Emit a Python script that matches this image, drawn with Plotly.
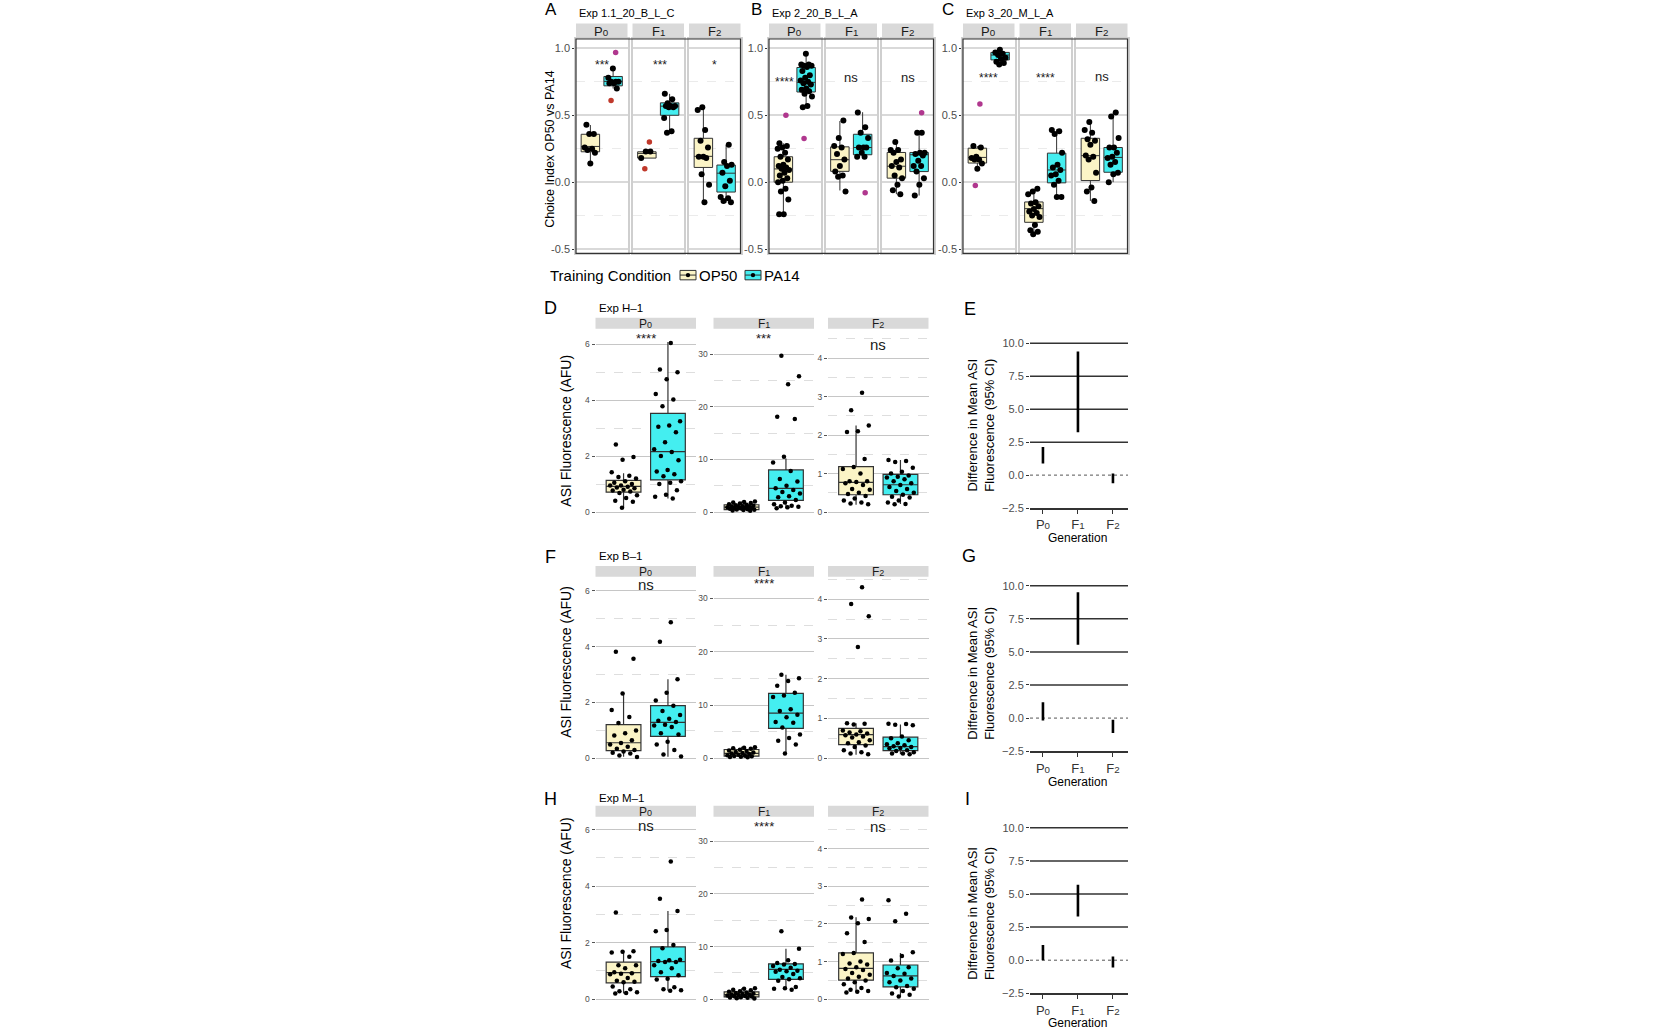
import plotly.graph_objects as go

W, H = 1674, 1034
FONT = "Liberation Sans, Arial, sans-serif"
OP50_FILL = "#FBF4C6"
PA14_FILL = "#44EEF0"
RED = "#C0392B"
MAGENTA = "#B0378E"
BOXLINE = "#333333"

gens = ["P0", "F1", "F2"]
conds = ["OP50", "PA14"]
gen_labels = ['P<span style="font-size:75%">0</span>',
              'F<span style="font-size:75%">1</span>',
              'F<span style="font-size:75%">2</span>']

# ---------------- Choice index experiments (A, B, C) ----------------
choice_titles = ["Exp 1.1_20_B_L_C", "Exp 2_20_B_L_A", "Exp 3_20_M_L_A"]
choice_letters = ["A", "B", "C"]

a_p0_op50 = [0.43, 0.36, 0.36, 0.26, 0.25, 0.24, 0.22, 0.14]
a_p0_pa14 = [0.85, 0.78, 0.75, 0.75, 0.75, 0.74, 0.74, 0.70]
a_f1_op50 = [0.23, 0.23, 0.18]
a_f1_pa14 = [0.66, 0.62, 0.59, 0.57, 0.57, 0.57, 0.56, 0.56, 0.48, 0.38, 0.37]
a_f2_op50 = [0.56, 0.54, 0.39, 0.31, 0.26, 0.19, 0.19, 0.18, 0.06, -0.02, -0.15]
a_f2_pa14 = [0.28, 0.15, 0.13, 0.12, 0.07, 0.01, -0.03, -0.11, -0.12, -0.14, -0.15]
a_q1 = [0.227, 0.72, 0.18, 0.50, 0.11, -0.074]
a_med = [0.267, 0.753, 0.215, 0.568, 0.193, 0.067]
a_q3 = [0.358, 0.79, 0.227, 0.593, 0.328, 0.128]
a_lo = [0.15, 0.70, 0.18, 0.37, -0.148, -0.153]
a_hi = [0.427, 0.852, 0.227, 0.66, 0.556, 0.279]
a_out_gen = ["P0", "P0", "F1", "F1"]
a_out_cond = ["PA14", "PA14", "OP50", "OP50"]
a_out_val = [0.97, 0.61, 0.30, 0.10]
a_out_col = [MAGENTA, RED, RED, RED]
a_sig = ["***", "***", "*"]
a_sig_y = [0.90, 0.90, 0.90]

b_p0_op50 = [0.29, 0.27, 0.26, 0.25, 0.22, 0.19, 0.17, 0.13, 0.12, 0.11, 0.10, 0.09,
             0.07, 0.05, 0.03, 0.01, 0.0, -0.05, -0.07, -0.13, -0.24, -0.24]
b_p0_pa14 = [0.96, 0.88, 0.88, 0.87, 0.87, 0.86, 0.83, 0.80, 0.78, 0.76, 0.75, 0.74,
             0.73, 0.70, 0.69, 0.68, 0.66, 0.64, 0.57, 0.56]
b_f1_op50 = [0.46, 0.33, 0.27, 0.26, 0.21, 0.17, 0.12, 0.08, 0.05, 0.04, -0.07]
b_f1_pa14 = [0.52, 0.41, 0.37, 0.33, 0.26, 0.26, 0.26, 0.22, 0.19, 0.19]
b_f2_op50 = [0.30, 0.24, 0.24, 0.22, 0.17, 0.15, 0.12, 0.11, 0.05, 0.03, -0.02, -0.06, -0.09]
b_f2_pa14 = [0.37, 0.37, 0.22, 0.22, 0.21, 0.20, 0.16, 0.12, 0.12, 0.08, 0.03, -0.02, -0.10]
b_q1 = [0.0, 0.674, 0.081, 0.205, 0.03, 0.079]
b_med = [0.099, 0.746, 0.168, 0.259, 0.119, 0.205]
b_q3 = [0.19, 0.857, 0.264, 0.358, 0.222, 0.222]
b_lo = [-0.24, 0.56, -0.062, 0.19, -0.09, -0.10]
b_hi = [0.29, 0.96, 0.457, 0.523, 0.30, 0.37]
b_out_gen = ["P0", "P0", "F1", "F2"]
b_out_cond = ["OP50", "PA14", "PA14", "PA14"]
b_out_val = [0.50, 0.326, -0.08, 0.518]
b_out_col = [MAGENTA, MAGENTA, MAGENTA, MAGENTA]
b_sig = ["****", "ns", "ns"]
b_sig_y = [0.77, 0.78, 0.78]

c_p0_op50 = [0.27, 0.26, 0.19, 0.18, 0.17, 0.17, 0.14, 0.10]
c_p0_pa14 = [0.99, 0.97, 0.96, 0.95, 0.93, 0.92, 0.90, 0.89, 0.88]
c_f1_op50 = [-0.05, -0.07, -0.09, -0.15, -0.16, -0.18, -0.20, -0.22, -0.23, -0.25,
             -0.26, -0.32, -0.36, -0.37, -0.39]
c_f1_pa14 = [0.39, 0.38, 0.36, 0.22, 0.13, 0.11, 0.09, 0.06, 0.05, 0.01, -0.02, -0.11, -0.11]
c_f2_op50 = [0.45, 0.39, 0.37, 0.32, 0.31, 0.28, 0.20, 0.19, 0.17, 0.07, -0.04, -0.07, -0.14]
c_f2_pa14 = [0.52, 0.49, 0.33, 0.26, 0.26, 0.22, 0.19, 0.18, 0.15, 0.13, 0.07, 0.06, 0.0]
c_q1 = [0.143, 0.914, -0.30, -0.005, 0.012, 0.074]
c_med = [0.185, 0.95, -0.198, 0.091, 0.198, 0.185]
c_q3 = [0.254, 0.97, -0.148, 0.217, 0.328, 0.259]
c_lo = [0.10, 0.877, -0.39, -0.11, -0.14, 0.0]
c_hi = [0.27, 0.99, -0.05, 0.395, 0.452, 0.519]
c_out_gen = ["P0", "P0"]
c_out_cond = ["OP50", "OP50"]
c_out_val = [0.585, -0.025]
c_out_col = [MAGENTA, MAGENTA]
c_sig = ["****", "****", "ns"]
c_sig_y = [0.80, 0.80, 0.79]

choice_ticks = [-0.5, 0.0, 0.5, 1.0]
choice_ticktext = ["-0.5", "0.0", "0.5", "1.0"]
choice_minor = [-0.25, 0.25, 0.75]

# ---------------- ASI fluorescence experiments (D, F, H) ----------------
asi_titles = ["Exp H\u20131", "Exp B\u20131", "Exp M\u20131"]
asi_letters = ["D", "F", "H"]

d_p0_op50 = [2.42, 1.97, 1.87, 1.42, 1.30, 1.25, 1.20, 1.10, 1.05, 1.00, 0.95, 0.95,
             0.90, 0.88, 0.85, 0.80, 0.77, 0.73, 0.68, 0.60, 0.50, 0.40, 0.37, 0.15]
d_p0_pa14 = [6.05, 5.10, 5.00, 4.75, 4.22, 4.03, 3.78, 3.25, 3.10, 3.05, 2.85, 2.50,
             2.25, 2.15, 2.00, 1.85, 1.50, 1.45, 1.35, 1.28, 1.10, 1.05, 1.00, 0.78,
             0.62, 0.55, 0.48]
d_f1_op50 = [2.0, 1.9, 1.8, 1.7, 1.6, 1.5, 1.4, 1.3, 1.2, 1.1, 1.0, 1.0, 0.95, 0.9,
             0.85, 0.8, 0.75, 0.7, 0.6, 0.55, 0.5, 0.45, 0.4, 0.3, 0.25]
d_f1_pa14 = [29.7, 25.8, 24.3, 18.1, 17.7, 10.5, 9.4, 7.8, 6.3, 5.8, 5.0, 4.5, 4.2,
             3.8, 3.5, 3.0, 2.8, 2.3, 1.8, 1.5, 1.2, 1.1, 1.0, 0.9, 0.7]
d_f2_op50 = [3.10, 2.65, 2.25, 2.10, 2.08, 1.38, 1.17, 1.12, 1.00, 0.80, 0.80, 0.78,
             0.75, 0.70, 0.60, 0.58, 0.50, 0.47, 0.42, 0.35, 0.30, 0.25, 0.22, 0.20]
d_f2_pa14 = [1.35, 1.33, 1.30, 1.15, 1.05, 1.00, 0.95, 0.92, 0.90, 0.85, 0.80, 0.75,
             0.70, 0.65, 0.60, 0.55, 0.50, 0.45, 0.40, 0.38, 0.30, 0.25, 0.21, 0.20]
d_q1 = [0.71, 1.15, 0.44, 2.2, 0.45, 0.45]
d_med = [0.92, 2.16, 0.94, 4.5, 0.77, 0.71]
d_q3 = [1.13, 3.53, 1.38, 8.0, 1.18, 0.98]
d_lo = [0.15, 0.48, 0.25, 0.6, 0.19, 0.21]
d_hi = [1.39, 6.08, 2.0, 10.2, 2.25, 1.35]
d_sig = ["****", "***", "ns"]
d_sig_y = [6.32, 33.5, 4.36]

f_p0_op50 = [3.82, 3.57, 2.32, 1.73, 1.48, 1.27, 1.00, 0.90, 0.82, 0.65, 0.55, 0.50,
             0.42, 0.35, 0.30, 0.25, 0.20, 0.18, 0.10, 0.05]
f_p0_pa14 = [4.87, 4.17, 2.83, 2.35, 2.07, 1.88, 1.70, 1.55, 1.42, 1.35, 1.30, 1.20,
             1.18, 1.12, 0.90, 0.86, 0.60, 0.50, 0.30, 0.14, 0.07]
f_f1_op50 = [2.1, 2.0, 1.9, 1.8, 1.6, 1.5, 1.4, 1.2, 1.1, 1.0, 0.9, 0.8, 0.7, 0.6,
             0.5, 0.45, 0.4, 0.3, 0.25, 0.2]
f_f1_pa14 = [15.7, 15.0, 14.5, 13.6, 12.3, 11.8, 11.5, 9.2, 8.9, 8.2, 7.7, 6.8, 6.7,
             5.8, 4.5, 3.8, 3.3, 2.6, 0.9]
f_f2_op50 = [4.30, 3.88, 3.57, 2.80, 0.88, 0.87, 0.85, 0.70, 0.68, 0.65, 0.62, 0.60,
             0.58, 0.55, 0.52, 0.45, 0.40, 0.38, 0.32, 0.28, 0.20, 0.15, 0.12, 0.10]
f_f2_pa14 = [0.87, 0.86, 0.84, 0.83, 0.55, 0.50, 0.45, 0.38, 0.35, 0.33, 0.30, 0.28,
             0.26, 0.25, 0.20, 0.18, 0.15, 0.12, 0.12, 0.10]
f_q1 = [0.28, 0.79, 0.43, 5.64, 0.345, 0.19]
f_med = [0.56, 1.29, 0.93, 8.5, 0.595, 0.29]
f_q3 = [1.21, 1.89, 1.67, 12.2, 0.75, 0.53]
f_lo = [0.06, 0.06, 0.19, 0.87, 0.09, 0.10]
f_hi = [2.31, 2.83, 2.17, 15.7, 0.88, 0.85]
f_sig = ["ns", "****", "*"]
f_sig_y = [6.22, 33.3, 4.60]

h_p0_op50 = [3.07, 1.70, 1.68, 1.65, 1.50, 1.20, 1.20, 1.10, 0.95, 0.92, 0.90, 0.88,
             0.75, 0.65, 0.62, 0.60, 0.45, 0.35, 0.28, 0.25, 0.22, 0.20]
h_p0_pa14 = [4.87, 3.55, 3.12, 2.45, 2.40, 1.92, 1.80, 1.40, 1.38, 1.35, 1.32, 1.32,
             1.20, 1.10, 0.95, 0.85, 0.72, 0.70, 0.42, 0.35, 0.32, 0.30]
h_f1_op50 = [2.1, 2.0, 1.8, 1.7, 1.5, 1.4, 1.3, 1.2, 1.1, 1.0, 0.9, 0.85, 0.8, 0.7,
             0.6, 0.55, 0.5, 0.4, 0.35, 0.3, 0.2, 0.15]
h_f1_pa14 = [12.9, 9.6, 7.4, 6.9, 6.7, 6.6, 6.3, 6.0, 5.6, 5.4, 5.3, 5.2, 4.8, 4.2,
             4.0, 3.8, 3.5, 2.3, 2.1, 2.0, 1.8]
h_f2_op50 = [2.65, 2.17, 2.13, 2.02, 1.75, 1.52, 1.23, 1.20, 1.00, 0.95, 0.92, 0.85,
             0.80, 0.78, 0.70, 0.65, 0.60, 0.55, 0.50, 0.45, 0.40, 0.30, 0.25, 0.22,
             0.20, 0.18]
h_f2_pa14 = [2.63, 2.27, 2.07, 1.25, 1.15, 1.03, 0.85, 0.82, 0.70, 0.68, 0.62, 0.55,
             0.50, 0.45, 0.35, 0.32, 0.28, 0.22, 0.15, 0.12, 0.07]
h_q1 = [0.58, 0.80, 0.44, 3.77, 0.51, 0.33]
h_med = [0.94, 1.33, 0.88, 5.65, 0.82, 0.62]
h_q3 = [1.31, 1.85, 1.38, 6.72, 1.23, 0.91]
h_lo = [0.20, 0.30, 0.15, 1.88, 0.18, 0.07]
h_hi = [1.70, 3.12, 2.07, 9.6, 2.18, 1.23]
h_sig = ["ns", "****", "ns"]
h_sig_y = [6.15, 33.3, 4.58]

asi_ticks = [[0, 2, 4, 6], [0, 10, 20, 30], [0, 1, 2, 3, 4]]
asi_minor = [[1, 3, 5], [5, 15, 25], [0.5, 1.5, 2.5, 3.5, 4.5]]

# ---------------- Difference in mean (E, G, I) ----------------
ci_letters = ["E", "G", "I"]
e_lo = [0.88, 3.25, -0.62]
e_hi = [2.13, 9.38, 0.12]
g_lo = [-0.18, 5.55, -1.12]
g_hi = [1.20, 9.50, -0.12]
i_lo = [0.00, 3.30, -0.55]
i_hi = [1.15, 5.70, 0.27]
ci_ticks = [-2.5, 0.0, 2.5, 5.0, 7.5, 10.0]
ci_ticktext = ["\u22122.5", "0.0", "2.5", "5.0", "7.5", "10.0"]
ci_lines = [-2.5, 2.5, 5.0, 7.5, 10.0]

# ================= build figure =================
fig = go.Figure()
layout_axes = {}
shapes = []
annotations = []
n_axes = [0]


def px(x):
    return x / W


def py(y):
    return 1 - y / H


def new_axes(x0, x1, y0, y1, xax, yax):
    n_axes[0] += 1
    n = n_axes[0]
    s = "" if n == 1 else str(n)
    xax = dict(xax)
    yax = dict(yax)
    xax.update(domain=[px(x0), px(x1)], anchor="y" + s)
    yax.update(domain=[py(y1), py(y0)], anchor="x" + s)
    layout_axes["xaxis" + s] = xax
    layout_axes["yaxis" + s] = yax
    return "x" + s, "y" + s


def jitter(n, amp, seed):
    return [((i * 0.6180339887 + seed) % 1.0 - 0.5) * 2 * amp for i in range(n)]


def text(x, y, t, size, color="#000000", xanchor="center", angle=0, yanchor="middle"):
    annotations.append(dict(x=px(x), y=py(y), xref="paper", yref="paper", text=t,
                            showarrow=False, xanchor=xanchor, yanchor=yanchor,
                            textangle=angle, font=dict(size=size, color=color, family=FONT)))


def rect(x0, y0, x1, y1, fill=None, line=None, lw=1, layer="above"):
    shapes.append(dict(type="rect", xref="paper", yref="paper", x0=px(x0), x1=px(x1),
                       y0=py(y1), y1=py(y0), fillcolor=fill if fill else "rgba(0,0,0,0)",
                       line=dict(color=line if line else "rgba(0,0,0,0)", width=lw if line else 0),
                       layer=layer))


def add_box(xa, ya, pos, q1, med, q3, lo, hi, fill, width, lw):
    fig.add_trace(go.Box(x=[pos], q1=[q1], median=[med], q3=[q3], lowerfence=[lo],
                         upperfence=[hi], fillcolor=fill, width=width, whiskerwidth=0,
                         line=dict(color=BOXLINE, width=lw), boxpoints=False,
                         xaxis=xa, yaxis=ya, showlegend=False, hoverinfo="skip"))


def add_points(xa, ya, pos, vals, amp, seed, size, color="#000000"):
    js = jitter(len(vals), amp, seed)
    fig.add_trace(go.Scatter(x=[pos + j for j in js], y=vals, mode="markers",
                             marker=dict(size=size, color=color, line=dict(width=0)),
                             xaxis=xa, yaxis=ya, showlegend=False, hoverinfo="skip"))


COND_POS = {"OP50": -0.265, "PA14": 0.265}
COND_FILL = {"OP50": OP50_FILL, "PA14": PA14_FILL}

# ---------- top row ----------
choice_points = [
    [[a_p0_op50, a_p0_pa14], [a_f1_op50, a_f1_pa14], [a_f2_op50, a_f2_pa14]],
    [[b_p0_op50, b_p0_pa14], [b_f1_op50, b_f1_pa14], [b_f2_op50, b_f2_pa14]],
    [[c_p0_op50, c_p0_pa14], [c_f1_op50, c_f1_pa14], [c_f2_op50, c_f2_pa14]],
]
choice_stats = [(a_q1, a_med, a_q3, a_lo, a_hi), (b_q1, b_med, b_q3, b_lo, b_hi),
                (c_q1, c_med, c_q3, c_lo, c_hi)]
choice_out = [(a_out_gen, a_out_cond, a_out_val, a_out_col),
              (b_out_gen, b_out_cond, b_out_val, b_out_col),
              (c_out_gen, c_out_cond, c_out_val, c_out_col)]
choice_sig = [(a_sig, a_sig_y), (b_sig, b_sig_y), (c_sig, c_sig_y)]
choice_sig_x = [[0.0, 0.05, 0.0], [-0.25, 0.0, 0.0], [0.0, 0.0, 0.0]]

TOP_X0 = [576, 769, 963]
FW, FG = 51.5, 5.0
TOP_Y0, TOP_Y1 = 37.3, 253.3
letter_x = [551, 756, 948]

for e in range(3):
    text(letter_x[e], 8, choice_letters[e], 17)
    text(TOP_X0[e] + 1, 11, choice_titles[e], 11, xanchor="left")
    q1s, meds, q3s, los, his = choice_stats[e]
    for g in range(3):
        x0 = TOP_X0[e] + g * (FW + FG)
        x1 = x0 + FW
        xa, ya = new_axes(
            x0, x1, TOP_Y0, TOP_Y1,
            dict(range=[-0.6, 0.6], showticklabels=False, showgrid=False, zeroline=False,
                 showline=True, mirror=True, linecolor="#CFCFCF", linewidth=1.5, ticks=""),
            dict(range=[-0.532, 1.07], tickvals=choice_ticks, ticktext=choice_ticktext,
                 showticklabels=(g == 0), ticks="outside" if g == 0 else "", ticklen=2,
                 tickcolor="#333333", tickfont=dict(size=11, color="#4D4D4D", family=FONT),
                 showgrid=True, gridcolor="#D9D9D9", gridwidth=1.6, zeroline=False,
                 showline=True, mirror=True, linecolor="#CFCFCF", linewidth=1.5,
                 minor=dict(tickvals=choice_minor, showgrid=True, gridcolor="#EBEBEB",
                            griddash="dash", gridwidth=1, ticks="")))
        rect(x0, 21.7, x1, 36.7, fill="#D9D9D9", layer="below")
        text((x0 + x1) / 2, 29.5, gen_labels[g], 13, color="#1A1A1A")
        for c, cond in enumerate(conds):
            k = g * 2 + c
            pos = COND_POS[cond]
            add_box(xa, ya, pos, q1s[k], meds[k], q3s[k], los[k], his[k],
                    COND_FILL[cond], 0.43, 1)
            add_points(xa, ya, pos, choice_points[e][g][c], 0.14, 0.17 + 0.31 * k, 6)
        og, oc, ov, ocol = choice_out[e]
        sel = [i for i in range(len(ov)) if og[i] == gens[g]]
        if sel:
            js = jitter(len(sel), 0.14, 0.71 + g)
            fig.add_trace(go.Scatter(
                x=[COND_POS[oc[i]] + js[m] for m, i in enumerate(sel)],
                y=[ov[i] for i in sel], mode="markers",
                marker=dict(size=5.5, color=[ocol[i] for i in sel], line=dict(width=0)),
                xaxis=xa, yaxis=ya, showlegend=False, hoverinfo="skip"))
        sig, sig_y = choice_sig[e]
        is_star = sig[g].startswith("*")
        annotations.append(dict(x=choice_sig_x[e][g], y=sig_y[g], xref=xa, yref=ya,
                                text=sig[g], showarrow=False,
                                yshift=-3 if is_star else 0,
                                font=dict(size=12 if is_star else 13, color="#1A1A1A",
                                          family=FONT)))
    rect(TOP_X0[e], TOP_Y0, TOP_X0[e] + 3 * FW + 2 * FG, TOP_Y1, line="#333333", lw=1.2)

text(550, 148, "Choice Index OP50 vs PA14", 12.5, angle=-90)

# legend
text(548, 276, "Training Condition", 15, xanchor="left")
for kx, cond in [(679, "OP50"), (744, "PA14")]:
    rect(kx + 1, 270.5, kx + 17, 280, fill=COND_FILL[cond], line="#333333", lw=1)
    shapes.append(dict(type="line", xref="paper", yref="paper", x0=px(kx + 1),
                       x1=px(kx + 17), y0=py(275.2), y1=py(275.2),
                       line=dict(color="#333333", width=1)))
    shapes.append(dict(type="circle", xref="paper", yref="paper", x0=px(kx + 6.8),
                       x1=px(kx + 11.2), y0=py(277.4), y1=py(273.0),
                       fillcolor="#000000", line=dict(width=0)))
    text(kx + 18, 276, cond, 15, xanchor="left")

# ---------- ASI rows ----------
asi_points = [
    [[d_p0_op50, d_p0_pa14], [d_f1_op50, d_f1_pa14], [d_f2_op50, d_f2_pa14]],
    [[f_p0_op50, f_p0_pa14], [f_f1_op50, f_f1_pa14], [f_f2_op50, f_f2_pa14]],
    [[h_p0_op50, h_p0_pa14], [h_f1_op50, h_f1_pa14], [h_f2_op50, h_f2_pa14]],
]
asi_stats = [(d_q1, d_med, d_q3, d_lo, d_hi), (f_q1, f_med, f_q3, f_lo, f_hi),
             (h_q1, h_med, h_q3, h_lo, h_hi)]
asi_sig = [(d_sig, d_sig_y), (f_sig, f_sig_y), (h_sig, h_sig_y)]
ASI_FACETS = [(595.5, 696), (713.5, 814), (828, 928.5)]
ASI_ROWS = [
    dict(strip=(318.3, 329.3), dom=(330, 518), letter_y=308.5, title_y=308,
         ytitle=432, ranges=[[-0.142, 6.532], [-0.755, 34.72], [-0.103, 4.748]]),
    dict(strip=(568.3, 579.3), dom=(579, 766), letter_y=559, title_y=558.5,
         ytitle=665, ranges=[[-0.131, 6.508], [-0.69, 34.09], [-0.096, 4.569]]),
    dict(strip=(810, 821), dom=(821, 1009), letter_y=803.5, title_y=802.5,
         ytitle=898, ranges=[[-0.14, 6.456], [-0.75, 34.65], [-0.105, 4.85]]),
]

for r in range(3):
    row = ASI_ROWS[r]
    text(550, row["letter_y"], asi_letters[r], 18)
    text(597, row["title_y"], asi_titles[r], 11.5, xanchor="left")
    text(566, row["ytitle"], "ASI Fluorescence (AFU)", 14, angle=-90)
    q1s, meds, q3s, los, his = asi_stats[r]
    sig, sig_y = asi_sig[r]
    for g in range(3):
        x0, x1 = ASI_FACETS[g]
        xa, ya = new_axes(
            x0, x1, row["dom"][0], row["dom"][1],
            dict(range=[-0.6, 0.6], visible=False),
            dict(range=row["ranges"][g], tickvals=asi_ticks[g], ticks="outside", ticklen=3,
                 tickcolor="#555555", tickwidth=1,
                 tickfont=dict(size=8.5, color="#4D4D4D", family=FONT),
                 showgrid=True, gridcolor="#C6C6C6", gridwidth=1.4, zeroline=False,
                 showline=False,
                 minor=dict(tickvals=asi_minor[g], showgrid=True, gridcolor="#DEDEDE",
                            griddash="dash", gridwidth=1, ticks="")))
        rect(x0, row["strip"][0], x1, row["strip"][1], fill="#D9D9D9", layer="below")
        text((x0 + x1) / 2, (row["strip"][0] + row["strip"][1]) / 2 + 0.5,
             gen_labels[g], 12, color="#1A1A1A")
        for c, cond in enumerate(conds):
            k = g * 2 + c
            pos = COND_POS[cond]
            add_box(xa, ya, pos, q1s[k], meds[k], q3s[k], los[k], his[k],
                    COND_FILL[cond], 0.415, 1.2)
            add_points(xa, ya, pos, asi_points[r][g][c], 0.17, 0.23 + 0.37 * k, 4.5)
        is_star = sig[g].startswith("*")
        annotations.append(dict(x=0, y=sig_y[g], xref=xa, yref=ya, text=sig[g],
                                showarrow=False, yshift=-3 if is_star else 0,
                                font=dict(size=13 if is_star else 15, color="#1A1A1A",
                                          family=FONT)))

# ---------- CI panels ----------
ci_data = [(e_lo, e_hi), (g_lo, g_hi), (i_lo, i_hi)]
CI_ROWS = [
    dict(dom=(340, 510), letter=(970, 309), ytitle=427, xt=540),
    dict(dom=(584.3, 755), letter=(969, 558), ytitle=677, xt=786),
    dict(dom=(828.3, 999), letter=(967, 803.5), ytitle=919, xt=1029),
]
for r in range(3):
    row = CI_ROWS[r]
    text(row["letter"][0], row["letter"][1], ci_letters[r], 18)
    xa, ya = new_axes(
        1030, 1128, row["dom"][0], row["dom"][1],
        dict(range=[-0.37, 2.43], tickvals=[0, 1, 2], ticktext=gen_labels, ticks="outside",
             ticklen=4, tickcolor="#333333", tickwidth=1.2, showgrid=False, zeroline=False,
             showline=True, linecolor="#333333", linewidth=1.5,
             tickfont=dict(size=13, color="#333333", family=FONT)),
        dict(range=[-2.5, 10.3], tickvals=ci_ticks, ticktext=ci_ticktext, ticks="outside",
             ticklen=3, tickcolor="#333333", tickwidth=1, showgrid=False, zeroline=False,
             showline=False, tickfont=dict(size=11, color="#4D4D4D", family=FONT)))
    for v in ci_lines:
        if v == -2.5:
            continue
        shapes.append(dict(type="line", xref=xa + " domain", yref=ya, x0=0, x1=1, y0=v,
                           y1=v, line=dict(color="#333333", width=1.5), layer="below"))
    shapes.append(dict(type="line", xref=xa + " domain", yref=ya, x0=0, x1=1, y0=0, y1=0,
                       line=dict(color="#555555", width=1, dash="dot"), layer="below"))
    lo, hi = ci_data[r]
    mid = [(a + b) / 2 for a, b in zip(lo, hi)]
    fig.add_trace(go.Scatter(
        x=[0, 1, 2], y=mid, mode="markers", marker=dict(size=1, color="rgba(0,0,0,0)"),
        error_y=dict(type="data", symmetric=False,
                     array=[h - m for h, m in zip(hi, mid)],
                     arrayminus=[m - l for m, l in zip(mid, lo)],
                     color="#000000", thickness=2.6, width=0),
        xaxis=xa, yaxis=ya, showlegend=False, hoverinfo="skip"))
    text(981, row["ytitle"], "Difference in Mean ASI<br>Fluorescence (95% CI)", 13,
         angle=-90)
    text(1077.7, row["xt"], "Generation", 12)

fig.update_layout(
    width=W, height=H, margin=dict(l=0, r=0, t=0, b=0), autosize=False,
    paper_bgcolor="white", plot_bgcolor="white", showlegend=False,
    font=dict(family=FONT, color="#000000"),
    shapes=shapes, annotations=annotations, **layout_axes)

fig.write_html("out.html")
